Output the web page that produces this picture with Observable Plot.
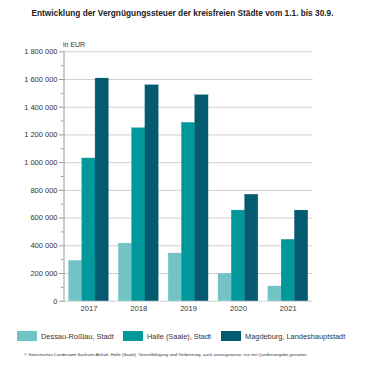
<!DOCTYPE html>
<html><head><meta charset="utf-8">
<script src="https://cdn.jsdelivr.net/npm/d3@7"></script>
<script src="https://cdn.jsdelivr.net/npm/@observablehq/plot@0.6"></script>
<style>
body{margin:0;background:#fff;font-family:"Liberation Sans",Arial,sans-serif;}
#wrap{position:relative;width:365px;height:365px;overflow:hidden;}
#title{position:absolute;top:8px;left:0;width:365px;text-align:center;font-weight:bold;font-size:8.3px;color:#222;}
#chart{position:absolute;top:40px;left:0;z-index:1;}
#legend{position:absolute;top:331px;left:0;width:365px;font-size:7.4px;color:#333;}
.item{position:absolute;top:0;height:10px;display:flex;align-items:center;}
.sw{width:20px;height:10px;margin-right:4px;}
#foot{position:absolute;top:352px;left:24px;font-size:4.4px;color:#333;white-space:nowrap;}
#unit{position:absolute;top:41px;left:63px;font-size:7px;color:#333;z-index:2;}
</style></head>
<body><div id="wrap">
<div id="title">Entwicklung der Vergnügungssteuer der kreisfreien Städte vom 1.1. bis 30.9.</div>
<div id="unit">in EUR</div>
<div id="chart"></div>
<div id="legend"></div>
<div id="foot">© Statistisches Landesamt Sachsen-Anhalt, Halle (Saale). Vervielfältigung und Verbreitung, auch auszugsweise, nur mit Quellenangabe gestattet.</div>
</div>
<script>
const years = ["2017","2018","2019","2020","2021"];
const cities = ["Dessau-Roßlau, Stadt","Halle (Saale), Stadt","Magdeburg, Landeshauptstadt"];
const dessau = [291000, 416000, 344000, 198000, 106000];
const halle = [1030000, 1248000, 1287000, 654000, 443000];
const magdeburg = [1607000, 1558000, 1486000, 768000, 654000];
const colors = ["#72c3c6","#00989a","#045b6f"];
const yTicks = [0,200000,400000,600000,800000,1000000,1200000,1400000,1600000,1800000];
const yMinor = [100000,300000,500000,700000,900000,1100000,1300000,1500000,1700000];

const series = [dessau, halle, magdeburg];
const data = [];
cities.forEach((c,i)=>years.forEach((y,j)=>data.push({year:y, city:c, value:series[i][j], idx:i})));

const W = 365, H = 280, mL = 63.5, mR = 52.3, mT = 11.3, mB = 19.3;
const fmt = d3.formatLocale({thousands:" ", grouping:[3], decimal:","}).format(",");
const xOpts = {type: "band", domain: years, paddingInner: 0.2, paddingOuter: 0.1, round: false};

let bw;
try { bw = Plot.scale({x: {...xOpts, range: [mL, W - mR]}}).bandwidth; } catch (e) {}
if (!(bw > 0)) bw = (W - mL - mR) / 5 * 0.8;
const third = bw / 3;

const barMarks = cities.map((c,i)=>Plot.barY(data.filter(d=>d.idx===i), {
  x:"year", y:"value", fill: colors[i], stroke: colors[i], strokeWidth: 0.3,
  insetLeft: i*third, insetRight: (2-i)*third
}));

const plot = Plot.plot({
  width: W, height: H,
  marginLeft: mL, marginRight: mR, marginTop: mT, marginBottom: mB,
  style: {fontFamily: '"Liberation Sans",Arial,sans-serif', fontSize: "7.5px", color:"#333", background:"transparent"},
  x: {...xOpts, label: null},
  y: {domain: [0, 1800000], label: null},
  marks: [
    Plot.ruleY(yTicks, {stroke:"#d0d0d0", strokeWidth: 1}),
    Plot.axisY({ticks: yMinor, tickSize: 2.5, tickFormat: ()=>"", stroke:"#999", label:null}),
    Plot.axisY({ticks: yTicks, tickSize: 4.5, tickPadding: 2, tickFormat: fmt, stroke:"#999", fill:"#333", label:null}),
    Plot.axisX({tickSize: 0, tickPadding: 4, fontSize: 7.6, fill:"#333", label:null}),
    ...barMarks,
    Plot.frame({anchor:"left", stroke:"#999"})
  ]
});
document.getElementById("chart").appendChild(plot);

const legend = document.getElementById("legend");
const lx = [17, 123, 221];
cities.forEach((c,i)=>{
  const it = document.createElement("div");
  it.className = "item"; it.style.left = lx[i] + "px";
  const sw = document.createElement("div"); sw.className="sw"; sw.style.background = colors[i];
  const t = document.createElement("span"); t.textContent = c;
  it.appendChild(sw); it.appendChild(t); legend.appendChild(it);
});
</script>
</body></html>
